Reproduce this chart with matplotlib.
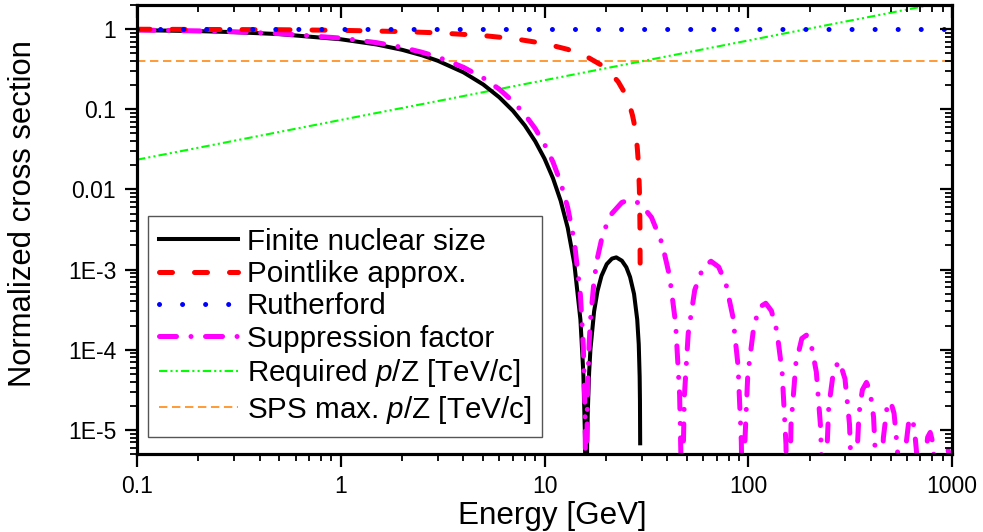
import numpy as np
import matplotlib
matplotlib.use('Agg')
import matplotlib.pyplot as plt
from matplotlib.ticker import FixedLocator, FixedFormatter, LogLocator, NullFormatter

plt.rcParams['font.family'] = 'Liberation Sans'
plt.rcParams['mathtext.fontset'] = 'custom'
plt.rcParams['mathtext.it'] = 'Liberation Sans:italic'
plt.rcParams['mathtext.rm'] = 'Liberation Sans'

# values (log-log axes)
finite_E = [0.1, 0.2, 0.3, 0.5, 1, 1.5, 2, 2.5, 3, 4, 5, 6, 7, 8, 9, 10, 11, 12, 13, 14,
            15, 15.5, 15.8, 15.95, 16.0, 16.05, 16.19, 16.3, 16.55, 16.8, 17.51, 18.2, 19.03,
            20.2, 21.43, 22.5, 23.97, 25.2, 26.29, 27.5, 28.5, 29.0, 29.3, 29.4, 29.47]
finite_val = [0.972, 0.944, 0.917, 0.866, 0.747, 0.643, 0.552, 0.472, 0.402, 0.289, 0.204,
              0.141, 0.0956, 0.0629, 0.0399, 0.0242, 0.0138, 0.00722, 0.00331, 0.00119,
              2.38e-4, 5.2e-5, 7.9e-6, 5.0e-7, 1e-9, 4.2e-7, 6.7e-6, 1.64e-5, 5.15e-5, 1.01e-4,
              3.01e-4, 5.41e-4, 8.34e-4, 1.17e-3, 1.37e-3, 1.42e-3, 1.29e-3, 1.07e-3, 8.08e-4,
              4.96e-4, 2.39e-4, 1.17e-4, 4.6e-5, 2.3e-5, 6.8e-6]

point_E = [0.1, 0.5, 1, 2, 3, 5, 7, 10, 13, 16, 19, 21, 23, 25, 26, 27, 27.5, 28, 28.5,
           28.8, 29.0, 29.2, 29.3, 29.4, 29.47]
point_val = [0.997, 0.983, 0.966, 0.932, 0.898, 0.831, 0.763, 0.661, 0.559, 0.458, 0.356,
             0.288, 0.220, 0.153, 0.119, 0.0847, 0.0678, 0.0508, 0.0339, 0.0237, 0.0169,
             0.0102, 0.0068, 0.0034, 0.0010]

ruth_E = [0.1, 1000]
ruth_val = [1, 1]

supp_E = [0.1, 0.2, 0.3, 0.5, 1, 1.5, 2, 2.5, 3, 4, 5, 6, 7, 8, 9, 10, 11, 12, 13, 14, 15,
          15.5, 15.8, 15.95, 16.0,
          16.05, 16.19, 16.3, 16.55, 16.8, 17.51, 18.2, 19.03, 20.2, 21.43, 23.97, 26.29, 29.49,
          33.48, 37.73, 41.08, 43.99, 46.02, 46.87, 47.30,
          47.72, 48.59, 50.72, 54.60, 59.99, 65.63, 71.53, 77.68, 84.08, 89.05, 92.44, 93.64, 94.23,
          94.85, 95.89, 99.41, 106.64, 114.12, 121.86, 129.85, 138.09, 146.58, 153.12, 156.0, 156.81,
          157.56, 162.06, 171.26, 183.10, 192.87, 202.88, 215.76, 226.35, 231.74, 235.03,
          238.57, 248.29, 262.51, 280.11, 298.27, 313.85, 323.38, 328.89,
          334.68, 349.50, 362.94, 380.10, 395.88, 411.99, 430.25, 438.40,
          445.90, 460.30, 479.60, 499.30, 519.39, 539.87, 554.45, 563.54,
          573.47, 590.66, 612.49, 632.48, 652.79, 675.74, 692.03, 704.34,
          715.65, 734.82, 759.17, 781.39, 803.95, 829.39, 847.43, 860.77,
          873.55, 894.72, 921.55, 946.03, 970.84, 1000]
supp_val = [0.975, 0.951, 0.927, 0.880, 0.773, 0.678, 0.592, 0.515, 0.448, 0.334, 0.246,
            0.178, 0.125, 0.0863, 0.0574, 0.0366, 0.0220, 0.0122, 0.00591, 0.00226, 4.84e-4,
            1.1e-4, 1.7e-5, 1.1e-6, 1e-9,
            9.2e-7, 1.49e-5, 3.67e-5, 1.17e-4, 2.34e-4, 7.40e-4, 1.41e-3, 2.35e-3, 3.71e-3,
            5.02e-3, 6.89e-3, 7.43e-3, 6.67e-3,
            4.49e-3, 2.13e-3, 8.31e-4, 2.13e-4, 2.76e-5, 3.1e-6, 1e-9,
            3.0e-6, 2.7e-5, 1.59e-4, 5.55e-4, 1.07e-3, 1.27e-3, 1.08e-3, 6.66e-4, 2.56e-4,
            6.35e-5, 7.1e-6, 7.3e-7, 1e-9,
            8.1e-7, 5.8e-6, 4.83e-5, 2.03e-4, 3.43e-4, 3.80e-4, 3.06e-4, 1.72e-4, 5.30e-5,
            6.6e-6, 3.0e-7, 1e-9,
            2.6e-7, 1.15e-5, 6.72e-5, 1.38e-4, 1.52e-4, 1.21e-4, 5.28e-5, 1.09e-5, 1.5e-6, 1e-9,
            1.7e-6, 1.94e-5, 5.65e-5, 7.23e-5, 4.33e-5, 1.18e-5, 1.5e-6, 1e-9,
            1.7e-6, 1.59e-5, 3.15e-5, 3.91e-5, 3.06e-5, 1.45e-5, 1.4e-6, 1e-9,
            1.2e-6, 8.0e-6, 1.91e-5, 2.27e-5, 1.61e-5, 5.6e-6, 8.3e-7, 1e-9,
            9.7e-7, 5.7e-6, 1.24e-5, 1.42e-5, 1.07e-5, 4.1e-6, 7.8e-7, 1e-9,
            6.4e-7, 3.7e-6, 8.1e-6, 9.3e-6, 7.0e-6, 2.7e-6, 5.0e-7, 1e-9,
            4.5e-7, 2.5e-6, 5.5e-6, 6.3e-6, 4.8e-6, 1.7e-6]

req_E = [0.1, 1000]
req_val = [0.0235, 2.26]

sps_E = [0.1, 1000]
sps_val = [0.4, 0.4]

x_ticks = [0.1, 1, 10, 100, 1000]
x_tick_labels = ['0.1', '1', '10', '100', '1000']
y_ticks = [1e-5, 1e-4, 1e-3, 1e-2, 1e-1, 1]
y_tick_labels = ['1E-5', '1E-4', '1E-3', '0.01', '0.1', '1']

fig = plt.figure(figsize=(9.83, 5.32), dpi=100)
ax = fig.add_axes([0.1394, 0.1466, 0.8291, 0.8440])

l_sps, = ax.plot(sps_E, sps_val, color='#FF8000', lw=1.1, dashes=(5.5, 3), zorder=1)
l_req, = ax.plot(req_E, req_val, color='#00FF00', lw=1.5,
                 dashes=(4, 1.5, 1, 1.5, 1, 1.5), zorder=2)
l_fin, = ax.plot(finite_E, finite_val, color='black', lw=2.9, zorder=3)
l_sup, = ax.plot(supp_E, supp_val, color='#FF00FF', lw=3.6, dashes=(3.4, 2.9, 0.01, 2.9),
                 dash_capstyle='round', zorder=4)
l_pt, = ax.plot(point_E, point_val, color='#FF0000', lw=3.6, dashes=(2.6, 4.4),
                dash_capstyle='round', zorder=5)
l_ru, = ax.plot(ruth_E, ruth_val, color='#0000FF', lw=3.6, dashes=(0.01, 4.6),
                dash_capstyle='round', zorder=6)

ax.set_xscale('log')
ax.set_yscale('log')
ax.set_xlim(0.1, 1000)
ax.set_ylim(5e-6, 2)

ax.xaxis.set_major_locator(FixedLocator(x_ticks))
ax.xaxis.set_major_formatter(FixedFormatter(x_tick_labels))
ax.yaxis.set_major_locator(FixedLocator(y_ticks))
ax.yaxis.set_major_formatter(FixedFormatter(y_tick_labels))
for a in (ax.xaxis, ax.yaxis):
    a.set_minor_locator(LogLocator(base=10, subs=np.arange(2, 10), numticks=20))
    a.set_minor_formatter(NullFormatter())
ax.tick_params(which='major', direction='out', length=9, width=1.6, labelsize=16.5, pad=6)
ax.tick_params(which='minor', direction='out', length=5, width=1.3)

# mirrored ticks pointing inward on top and right
axt = ax.twiny()
axt.set_xscale('log')
axt.set_xlim(ax.get_xlim())
axt.xaxis.set_major_locator(FixedLocator(x_ticks))
axt.xaxis.set_minor_locator(LogLocator(base=10, subs=np.arange(2, 10), numticks=20))
axt.xaxis.set_major_formatter(NullFormatter())
axt.xaxis.set_minor_formatter(NullFormatter())
axt.tick_params(which='major', direction='in', length=9, width=1.6)
axt.tick_params(which='minor', direction='in', length=5, width=1.3)

axr = ax.twinx()
axr.set_yscale('log')
axr.set_ylim(ax.get_ylim())
axr.yaxis.set_major_locator(FixedLocator(y_ticks))
axr.yaxis.set_minor_locator(LogLocator(base=10, subs=np.arange(2, 10), numticks=20))
axr.yaxis.set_major_formatter(NullFormatter())
axr.yaxis.set_minor_formatter(NullFormatter())
axr.tick_params(which='major', direction='in', length=9, width=1.6)
axr.tick_params(which='minor', direction='in', length=5, width=1.3)

for a in (ax, axt, axr):
    for s in a.spines.values():
        s.set_linewidth(2.2)

ax.set_xlabel('Energy [GeV]', fontsize=22.6)
ax.xaxis.set_label_coords(0.51, -0.105)
ax.set_ylabel('Normalized cross section', fontsize=22.3)
ax.yaxis.set_label_coords(-0.121, 0.535)

leg = ax.legend(handles=[l_fin, l_pt, l_ru, l_sup, l_req, l_sps],
                labels=['Finite nuclear size', 'Pointlike approx.', 'Rutherford',
                        'Suppression factor', 'Required $\\mathit{p}$/Z [TeV/c]',
                        'SPS max. $\\mathit{p}$/Z [TeV/c]'],
                loc='lower left', bbox_to_anchor=(0.0135, 0.038), borderaxespad=0,
                fontsize=21.3, handlelength=2.65, handletextpad=0.3, labelspacing=0.15,
                borderpad=0.38, fancybox=False, edgecolor='#555555', framealpha=1)
leg.get_frame().set_linewidth(1.0)
leg.set_zorder(10)

fig.savefig('out.png', dpi=100)
